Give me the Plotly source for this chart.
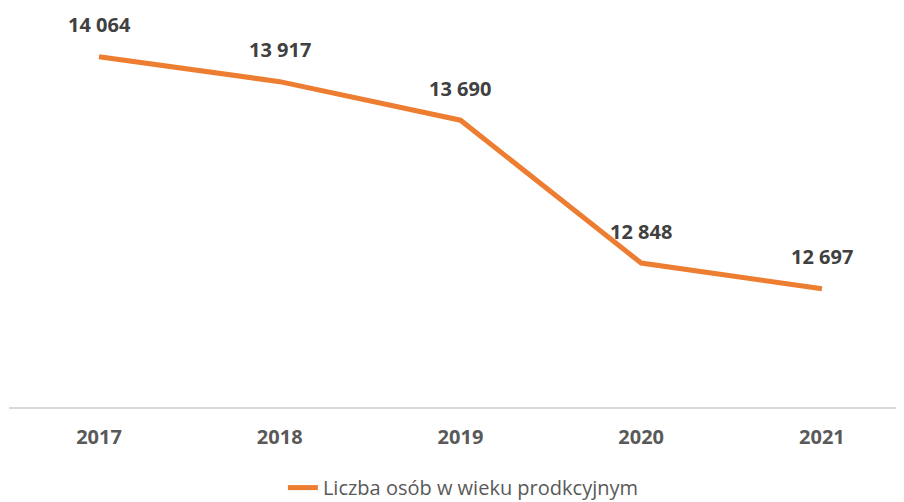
import plotly.graph_objects as go

years = ["2017", "2018", "2019", "2020", "2021"]
values = [14064, 13917, 13690, 12848, 12697]
labels = ["14 064", "13 917", "13 690", "12 848", "12 697"]
series_name = "Liczba osób w wieku prodkcyjnym"

FONT = "Open Sans, Liberation Sans, sans-serif"

fig = go.Figure()
fig.add_trace(go.Scatter(
    x=years, y=values, mode="lines", name=series_name,
    line=dict(color="#ED7D31", width=5),
    hoverinfo="skip",
))

for i, (yv, t) in enumerate(zip(values, labels)):
    fig.add_annotation(x=i, y=yv, xref="x", yref="y", text="<b>%s</b>" % t, showarrow=False,
                       yshift=32, font=dict(family=FONT, size=20, color="#404040"))

fig.update_layout(
    width=896, height=494,
    margin=dict(l=1, r=4, t=0, b=95, autoexpand=False),
    paper_bgcolor="white", plot_bgcolor="white",
    showlegend=True,
    legend=dict(orientation="h", x=0.51, xanchor="center", y=-0.202, yanchor="middle",
                font=dict(family=FONT, size=20, color="#595959")),
    xaxis=dict(type="category", range=[-0.498, 4.432], showgrid=False, zeroline=False,
               automargin=False,
               showline=True, linecolor="#D9D9D9", linewidth=2, ticks="",
               ticklabelstandoff=11,
               tickfont=dict(family=FONT, size=20, color="#595959", weight="bold")),
    yaxis=dict(range=[12000, 14351], visible=False, showgrid=False, zeroline=False,
               automargin=False),
)

fig.write_html("out.html")
